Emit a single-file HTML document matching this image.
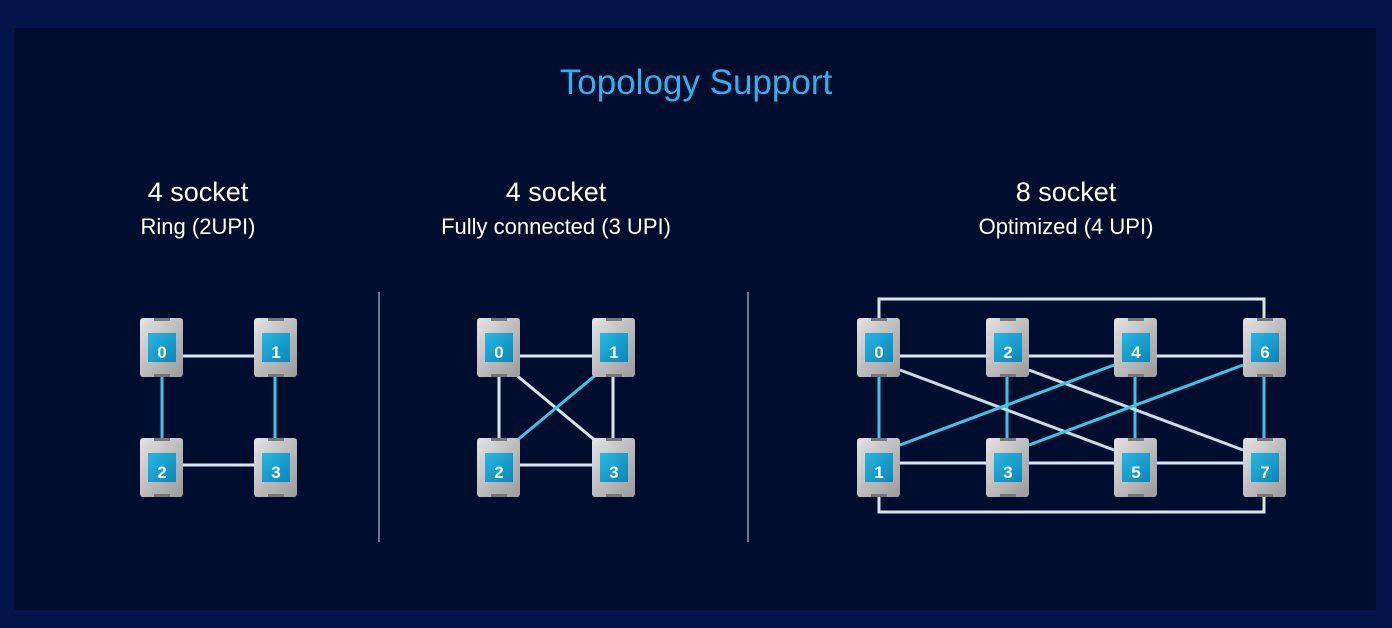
<!DOCTYPE html>
<html><head><meta charset="utf-8"><style>
html,body{margin:0;padding:0;}
body{width:1392px;height:628px;background:#04134a;position:relative;overflow:hidden;font-family:"Liberation Sans",sans-serif;}
#panel{position:absolute;left:14px;top:28px;width:1362px;height:582px;background:#010d2e;}
.t{position:absolute;text-align:center;color:#fff;white-space:nowrap;}
</style></head><body>
<div id="panel"></div>
<div class="t" style="left:0;width:1392px;top:63px;font-size:35px;color:#2db3ec;">Topology Support</div>
<div class="t" style="left:48px;width:300px;top:177px;font-size:27px;">4 socket</div>
<div class="t" style="left:48px;width:300px;top:214px;font-size:22px;">Ring (2UPI)</div>
<div class="t" style="left:406px;width:300px;top:177px;font-size:27px;">4 socket</div>
<div class="t" style="left:406px;width:300px;top:214px;font-size:22px;">Fully connected (3 UPI)</div>
<div class="t" style="left:916px;width:300px;top:177px;font-size:27px;">8 socket</div>
<div class="t" style="left:916px;width:300px;top:214px;font-size:22px;">Optimized (4 UPI)</div>
<svg width="1392" height="628" style="position:absolute;left:0;top:0">
<defs>
<linearGradient id="chip" x1="0" y1="0" x2="1" y2="1">
<stop offset="0" stop-color="#e4e4e4"/><stop offset="0.5" stop-color="#bdbdbd"/><stop offset="1" stop-color="#9a9a9a"/>
</linearGradient>
<linearGradient id="sq" x1="0" y1="0" x2="1" y2="1">
<stop offset="0" stop-color="#28b7e3"/><stop offset="1" stop-color="#0a86b8"/>
</linearGradient>
<g id="c">
<rect x="0" y="0" width="43" height="59" rx="3" fill="url(#chip)"/>
<rect x="14" y="0" width="16" height="3" fill="#777"/>
<rect x="14" y="56" width="16" height="3" fill="#777"/>
<rect x="8" y="15" width="28" height="29" fill="url(#sq)"/>
</g>
</defs>
<line x1="379" y1="292" x2="379" y2="542" stroke="#6a7590" stroke-width="2"/>
<line x1="748" y1="292" x2="748" y2="542" stroke="#6a7590" stroke-width="2"/>
<g stroke-width="3" fill="none">
<line x1="183" y1="356" x2="254" y2="356" stroke="#d8e4ee"/>
<line x1="183" y1="465" x2="254" y2="465" stroke="#d8e4ee"/>
<line x1="162" y1="377" x2="162" y2="439" stroke="#3cc6e6"/>
<line x1="275" y1="377" x2="275" y2="439" stroke="#3cc6e6"/>
<line x1="520" y1="356" x2="592" y2="356" stroke="#d8e4ee"/>
<line x1="520" y1="465" x2="592" y2="465" stroke="#d8e4ee"/>
<line x1="499" y1="377" x2="499" y2="439" stroke="#d8e4ee"/>
<line x1="613" y1="377" x2="613" y2="439" stroke="#d8e4ee"/>
<line x1="515" y1="374" x2="597" y2="442" stroke="#d8e4ee"/>
<line x1="597" y1="374" x2="515" y2="442" stroke="#3cc6e6"/>
<polyline points="879,318 879,299 1264,299 1264,318" stroke="#d8e4ee"/>
<polyline points="879,497 879,512 1264,512 1264,497" stroke="#d8e4ee"/>
<line x1="900" y1="356" x2="1243" y2="356" stroke="#d8e4ee"/>
<line x1="900" y1="463" x2="1243" y2="463" stroke="#d8e4ee"/>
<line x1="879" y1="377" x2="879" y2="438" stroke="#3cc6e6"/>
<line x1="1007" y1="377" x2="1007" y2="438" stroke="#3cc6e6"/>
<line x1="1135" y1="377" x2="1135" y2="438" stroke="#3cc6e6"/>
<line x1="1264" y1="377" x2="1264" y2="438" stroke="#3cc6e6"/>
<line x1="900" y1="370" x2="1114" y2="450" stroke="#c8dbe8"/>
<line x1="1029" y1="370" x2="1243" y2="450" stroke="#c8dbe8"/>
<line x1="1114" y1="365" x2="900" y2="445" stroke="#3cc6e6"/>
<line x1="1243" y1="365" x2="1029" y2="445" stroke="#3cc6e6"/>
</g>
<g font-family="Liberation Sans,sans-serif" font-weight="bold" font-size="17" fill="#fff" text-anchor="middle">
<use href="#c" x="140" y="318"/><text x="162" y="358">0</text>
<use href="#c" x="254" y="318"/><text x="276" y="358">1</text>
<use href="#c" x="140" y="438"/><text x="162" y="478">2</text>
<use href="#c" x="254" y="438"/><text x="276" y="478">3</text>
<use href="#c" x="477" y="318"/><text x="499" y="358">0</text>
<use href="#c" x="592" y="318"/><text x="614" y="358">1</text>
<use href="#c" x="477" y="438"/><text x="499" y="478">2</text>
<use href="#c" x="592" y="438"/><text x="614" y="478">3</text>
<use href="#c" x="857" y="318"/><text x="879" y="358">0</text>
<use href="#c" x="986" y="318"/><text x="1008" y="358">2</text>
<use href="#c" x="1114" y="318"/><text x="1136" y="358">4</text>
<use href="#c" x="1243" y="318"/><text x="1265" y="358">6</text>
<use href="#c" x="857" y="438"/><text x="879" y="478">1</text>
<use href="#c" x="986" y="438"/><text x="1008" y="478">3</text>
<use href="#c" x="1114" y="438"/><text x="1136" y="478">5</text>
<use href="#c" x="1243" y="438"/><text x="1265" y="478">7</text>
</g>
</svg>
</body></html>
